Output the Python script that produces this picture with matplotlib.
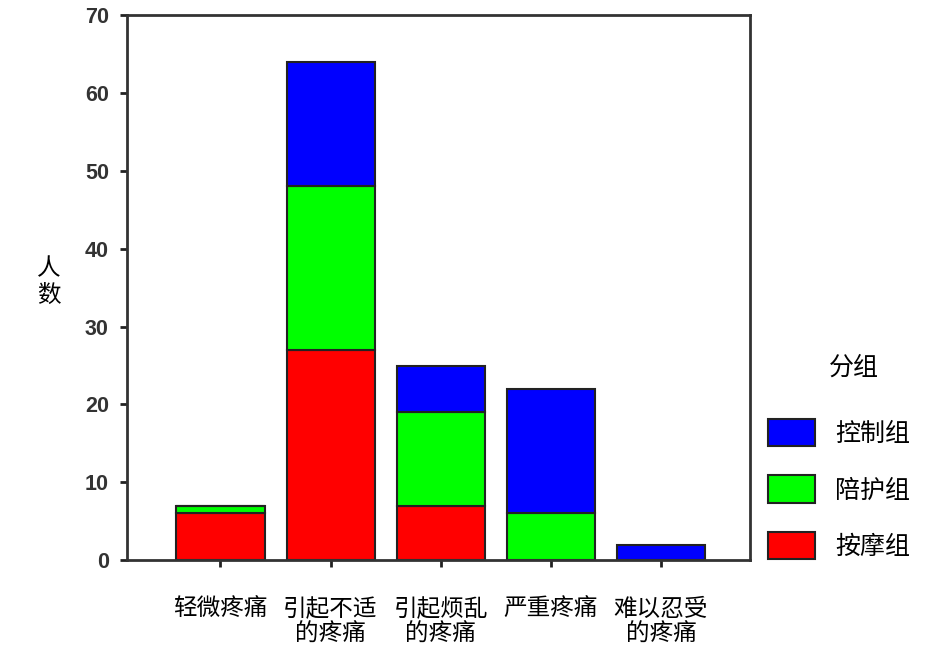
import numpy as np
import matplotlib.pyplot as plt

plt.rcParams['font.family'] = ['Noto Sans CJK SC', 'DejaVu Sans']

categories = ['轻微疼痛', '引起不适\n的疼痛', '引起烦乱\n的疼痛', '严重疼痛', '难以忍受\n的疼痛']
massage = [6, 27, 7, 0, 0]    # 按摩组
escort = [1, 21, 12, 6, 0]    # 陪护组
control = [0, 16, 6, 16, 2]   # 控制组
yticks = [0, 10, 20, 30, 40, 50, 60, 70]

fig = plt.figure(figsize=(9.33, 6.56), dpi=100)
ax = fig.add_axes([0.136, 0.146, 0.668, 0.831])

x = np.arange(len(categories))
m = np.array(massage)
e = np.array(escort)
c = np.array(control)
kw = dict(width=0.8, edgecolor='#222222', linewidth=1.5)
b_m = ax.bar(x, m, color='#ff0000', **kw)
b_e = ax.bar(x, e, bottom=m, color='#00ff00', **kw)
b_c = ax.bar(x, c, bottom=m + e, color='#0000ff', **kw)

ax.set_xlim(-0.85, 4.81)
ax.set_ylim(0, 70)
ax.set_yticks(yticks)
ax.set_yticklabels([str(v) for v in yticks], fontsize=15.5, fontweight='bold',
                   family='Liberation Sans', color='#333333')
ax.set_xticks(x)
ax.set_xticklabels(categories, fontsize=17, linespacing=1.1)
ax.tick_params(axis='both', direction='out', length=5, width=2, color='#222222')
ax.tick_params(axis='y', pad=8)
ax.tick_params(axis='x', pad=22)
for s in ax.spines.values():
    s.set_linewidth(2)
    s.set_color('#333333')

fig.text(0.052, 0.57, '人\n数', fontsize=17, ha='center', va='center', linespacing=1.2)

# legend title sits over the labels, not the whole box
fig.text(0.915, 0.44, '分组', fontsize=18, ha='center', va='center')
leg = ax.legend([b_c, b_e, b_m], ['控制组', '陪护组', '按摩组'],
                loc='upper left', bbox_to_anchor=(0.812, 0.377),
                bbox_transform=fig.transFigure, frameon=False,
                prop={'size': 18},
                handlelength=1.9, handleheight=1.3,
                labelspacing=1.15, handletextpad=0.8, borderaxespad=0)

fig.savefig('out.png', dpi=100)
